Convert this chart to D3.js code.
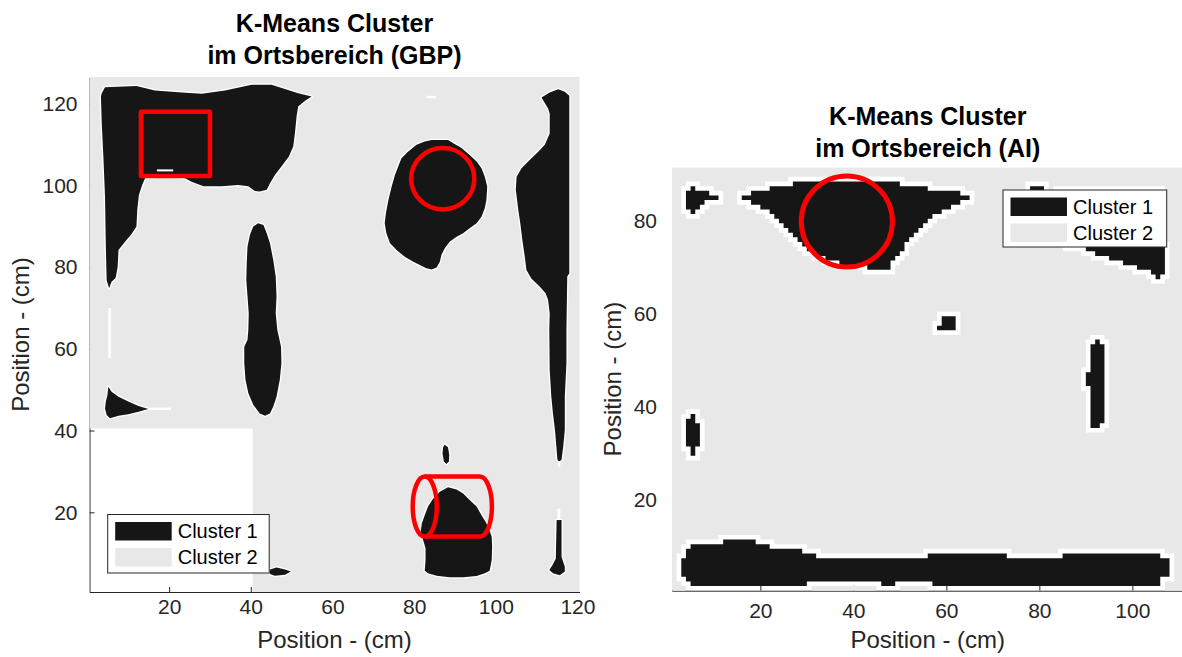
<!DOCTYPE html>
<html>
<head>
<meta charset="utf-8">
<script src="https://cdnjs.cloudflare.com/ajax/libs/d3/7.8.5/d3.min.js"></script>
<style>
  body { margin: 0; background: #fff; }
  svg { display: block; }
  text { font-family: "Liberation Sans", Arial, Helvetica, sans-serif; }
</style>
</head>
<body>
<div id="chart"></div>
<script>
// ---------- data: left panel (GBP), blob outlines in cm ----------
var gbpXTicks = [20, 40, 60, 80, 100, 120]
var gbpYTicks = [20, 40, 60, 80, 100, 120]

var gbpBlobTopLeft = [[3.3,121.7],[3.5,122.5],[4.3,124.0],[12.0,124.3],[16.5,123.2],[23.1,122.7],[28.0,122.4],[33.7,123.2],[40.2,124.6],[45.1,124.6],[51.6,122.5],[54.9,121.7],[53.3,120.7],[51.6,119.3],[51.2,116.8],[50.8,112.7],[50.4,109.5],[49.3,107.0],[47.5,104.6],[45.9,102.5],[44.7,100.5],[43.9,98.9],[42.2,98.5],[41.0,98.6],[39.4,99.8],[36.9,100.1],[32.9,99.8],[28.4,99.8],[25.5,100.9],[23.9,101.7],[21.0,102.1],[16.9,102.1],[14.1,101.7],[13.4,100.1],[12.6,97.6],[12.2,94.0],[12.0,89.9],[10.8,88.1],[9.2,86.2],[7.6,84.2],[7.4,80.1],[6.9,77.3],[5.9,76.4],[5.3,74.8],[4.7,76.8],[4.5,85.0],[4.3,97.2],[3.9,107.0],[3.5,115.2]]
var gbpBlobEgg = [[84.3,111.1],[88.3,111.1],[89.6,110.3],[91.6,109.1],[93.6,107.4],[95.3,105.8],[96.5,104.2],[97.3,102.1],[97.9,99.7],[97.7,96.4],[97.3,94.4],[96.5,92.3],[95.3,90.7],[93.6,89.5],[92.0,88.3],[90.4,87.4],[88.7,86.2],[87.5,84.6],[86.7,83.0],[86.3,81.3],[85.5,79.9],[84.3,79.4],[83.0,79.7],[81.4,80.5],[79.8,81.3],[77.7,82.5],[75.7,84.2],[74.1,85.8],[73.2,88.3],[72.8,90.7],[73.1,93.2],[73.7,96.4],[74.5,99.7],[75.3,102.5],[76.1,104.6],[76.9,106.6],[78.5,108.2],[80.6,109.9],[82.6,110.7]]
var gbpBlobRightStrip = [[111.2,121.5],[113.2,122.7],[115.3,123.5],[116.9,122.9],[118.0,121.9],[118.0,78.5],[117.5,77.7],[117.3,64.6],[117.3,56.5],[116.9,48.3],[116.9,40.1],[116.5,36.0],[116.1,32.8],[115.5,32.4],[115.1,32.8],[114.9,35.2],[114.5,40.1],[114.0,44.2],[113.6,48.3],[113.2,54.8],[113.1,64.6],[113.2,68.7],[112.8,72.0],[112.2,73.6],[110.8,75.2],[108.7,77.2],[107.5,79.3],[107.1,82.5],[106.5,86.6],[106.0,90.7],[105.5,94.0],[104.9,98.9],[105.1,102.1],[106.3,104.2],[108.3,106.2],[110.4,108.2],[112.0,109.9],[113.2,112.7],[113.2,117.6],[112.8,118.8]]
var gbpBlobRightDrop = [[114.9,18.1],[116.1,18.1],[116.1,9.1],[116.9,6.7],[116.9,5.5],[115.7,4.6],[114.0,5.1],[113.1,5.9],[113.9,7.1],[114.7,8.7]]
var gbpBlobSpindle = [[41.8,90.7],[43.1,90.3],[43.9,88.3],[44.7,85.8],[45.5,81.7],[46.1,77.7],[46.3,72.8],[46.1,68.7],[46.5,64.6],[47.4,60.5],[47.5,56.5],[47.1,52.4],[46.3,48.3],[45.5,45.9],[44.7,44.2],[43.5,43.6],[42.2,44.2],[40.6,46.3],[39.4,49.1],[38.7,52.4],[38.4,56.5],[38.4,60.5],[39.2,62.2],[39.4,64.6],[39.5,68.7],[39.2,72.8],[38.9,76.8],[39.0,80.9],[39.2,85.0],[39.8,87.9],[40.6,89.9]]
var gbpBlobWedge = [[5.1,50.7],[5.9,49.5],[7.6,48.3],[10.0,47.1],[12.5,46.0],[14.9,45.3],[12.5,44.6],[10.0,44.0],[7.6,43.6],[5.5,43.0],[4.7,43.8],[4.3,45.4],[4.5,47.1],[4.9,48.7]]
var gbpBlobFoot = [[44.7,6.0],[46.3,6.5],[48.4,6.0],[49.8,5.5],[48.4,4.7],[45.9,4.5],[44.7,4.9]]
var gbpBlobDot = [[87.5,36.5],[88.3,35.9],[88.6,34.0],[88.5,32.4],[87.9,31.8],[87.3,32.4],[86.95,34.3],[87.1,35.9]]
var gbpBlobBottle = [[88.3,26.1],[90.4,25.6],[92.0,24.6],[93.6,23.0],[95.3,21.4],[96.5,19.3],[97.6,17.5],[98.4,15.7],[99.0,14.0],[99.1,11.6],[99.0,8.3],[98.5,5.7],[97.3,5.1],[95.3,4.4],[92.0,4.1],[88.7,4.1],[85.5,4.5],[83.4,5.1],[82.6,5.7],[82.8,8.3],[82.8,11.2],[82.2,13.2],[81.6,15.3],[81.9,17.3],[82.6,19.3],[83.4,21.4],[84.7,23.4],[86.3,25.0]]
var gbpBlobs = [gbpBlobTopLeft, gbpBlobEgg, gbpBlobRightStrip, gbpBlobRightDrop, gbpBlobSpindle, gbpBlobWedge, gbpBlobFoot, gbpBlobDot, gbpBlobBottle]

// empty (NaN) areas [x0, x1, y0, y1]
var gbpEmptyBlock = [[0.5, 40.5, 0.5, 40.5]]
var gbpEmptyBits = [[5.1,5.8,57.7,70.0],[83.0,85.3,121.3,121.9],[17.0,21.0,103.4,103.9],[14.9,20.5,45.0,45.6],[115.2,115.8,31.2,32.4],[115.1,115.8,18.1,20.9]]

// red annotations
var gbpBox = [13.1, 30.0, 102.3, 118.0]
var gbpCircle = [87.0, 101.6, 7.75, 7.5]
var gbpCylinder = [82.6, 96.1, 21.4, 2.95, 7.35]

// ---------- data: right panel (AI), black pixel runs [row, xStart, xEnd] ----------
var aiXTicks = [20, 40, 60, 80, 100]
var aiYTicks = [20, 40, 60, 80]

var aiBlobTop = [[88,27,50],[87,22,56],[86,18,63],[85,16,65],[84,18,63],[83,20,61],[82,22,59],[81,23,57],[80,24,56],[79,25,55],[78,26,54],[77,27,53],[76,28,52],[75,29,51],[74,30,51],[73,32,50],[72,34,49],[71,37,48],[70,43,48]]
var aiBlobArrow = [[87,5,6],[86,4,9],[85,4,11],[84,4,8],[83,4,7],[82,5,6]]
var aiBlobCorner = [[87,78,81],[86,84,106],[85,84,106],[84,84,106],[83,84,106],[82,84,106],[81,84,106],[80,84,106],[79,84,106],[78,84,106],[77,84,106],[76,84,106],[75,86,106],[74,90,107],[73,92,107],[72,95,107],[71,98,107],[70,101,107],[69,104,107],[68,105,106]]
var aiBlobSquare = [[59,59,62],[58,59,62],[57,58,62]]
var aiBlobBar = [[54,92,93],[53,91,94],[52,91,94],[51,91,94],[50,91,94],[49,91,94],[48,91,94],[47,90,94],[46,90,94],[45,90,94],[44,91,94],[43,91,94],[42,91,94],[41,91,94],[40,91,94],[39,91,94],[38,91,94],[37,91,94],[36,91,93]]
var aiBlobStub = [[38,5,6],[37,4,6],[36,4,7],[35,4,7],[34,4,7],[33,4,7],[32,4,7],[31,5,6],[30,5,6]]
var aiBlobFloor = [[11,12,19],[10,5,22],[9,4,29],[8,4,32],[8,56,73],[8,85,106],[7,3,108],[6,3,108],[5,3,108],[4,3,108],[3,4,106],[2,5,30],[2,46,49],[2,57,106]]
var aiBlobs = [aiBlobTop, aiBlobArrow, aiBlobCorner, aiBlobSquare, aiBlobBar, aiBlobStub, aiBlobFloor]
var aiEmptyBits = [[4, 6, 23, 29.5]]
var aiCircle = [38.6, 79.9, 9.8]

var legendLabels = ['Cluster 1', 'Cluster 2']

// ---------- drawing ----------
var W = 1182, H = 657
var BLACK = '#161616', GRAY = '#e8e8e8', RED = '#ff0000', INK = '#262626'

var svg = d3.select('#chart').append('svg').attr('width', W).attr('height', H)
var defs = svg.append('defs')

function axes(g, x, y, xt, yt, padX, padY) {
  var ax = g.append('g').attr('transform', 'translate(0,' + y.range()[0] + ')')
    .call(d3.axisBottom(x).tickValues(xt).tickSizeInner(-5).tickSizeOuter(0).tickPadding(padX))
  var ay = g.append('g').attr('transform', 'translate(' + x.range()[0] + ',0)')
    .call(d3.axisLeft(y).tickValues(yt).tickSizeInner(-5).tickSizeOuter(0).tickPadding(padY))
  g.selectAll('.domain, .tick line').attr('stroke', INK).attr('stroke-width', 1)
  g.selectAll('.tick text').attr('fill', INK).style('font-size', '21px')
  ax.attr('font-family', null); ay.attr('font-family', null)
}

function titles(g, cx, lines, y0) {
  g.selectAll('text.title').data(lines).enter().append('text')
    .attr('class', 'title')
    .attr('x', cx).attr('y', function(d, i) { return y0 + i * 32 })
    .attr('text-anchor', 'middle').attr('font-weight', 'bold')
    .style('font-size', '25px').attr('fill', '#000')
    .text(function(d) { return d })
}

function labels(g, cx, cy, xBase, yBase) {
  g.append('text').attr('x', cx).attr('y', yBase).attr('text-anchor', 'middle')
    .style('font-size', '24px').attr('fill', INK).text('Position - (cm)')
  g.append('text').attr('transform', 'translate(' + xBase + ',' + cy + ') rotate(-90)')
    .attr('text-anchor', 'middle').style('font-size', '24px').attr('fill', INK).text('Position - (cm)')
}

function legend(g, lx, ly, lw, lh) {
  g.append('rect').attr('x', lx).attr('y', ly).attr('width', lw).attr('height', lh)
    .attr('fill', '#fff').attr('stroke', INK).attr('stroke-width', 1)
  var item = g.selectAll('g.item').data(legendLabels).enter().append('g').attr('class', 'item')
  item.append('rect').attr('x', lx + 7.5).attr('y', function(d, i) { return ly + 7.5 + i * 26 })
    .attr('width', 56.5).attr('height', 18.5).attr('fill', function(d, i) { return i ? GRAY : BLACK })
  item.append('text').attr('x', lx + 70).attr('y', function(d, i) { return ly + 16.5 + i * 26 })
    .attr('dy', '0.35em').style('font-size', '20px').attr('fill', '#000')
    .text(function(d) { return d })
}

function rectOf(x, y, r) {
  return { x: x(r[0]), y: y(r[3]), w: x(r[1]) - x(r[0]), h: y(r[2]) - y(r[3]) }
}

// ---- left panel ----
var xL = d3.scaleLinear().domain([0.5, 120.5]).range([89.5, 579.5])
var yL = d3.scaleLinear().domain([0.5, 126.5]).range([592, 77])
var gL = svg.append('g')
axes(gL, xL, yL, gbpXTicks, gbpYTicks, 7, 12)

var outline = d3.line().x(function(d) { return xL(d[0]) }).y(function(d) { return yL(d[1]) }).curve(d3.curveLinearClosed)

var maskL = defs.append('mask').attr('id', 'maskL').attr('maskUnits', 'userSpaceOnUse')
  .attr('x', 0).attr('y', 0).attr('width', W).attr('height', H)
maskL.append('rect').attr('width', W).attr('height', H).attr('fill', '#fff')
maskL.selectAll('path').data(gbpBlobs).enter().append('path').attr('d', outline)
  .attr('fill', '#000').attr('stroke', '#000').attr('stroke-width', 2.6).attr('stroke-linejoin', 'round')
maskL.selectAll('rect.e').data(gbpEmptyBlock).enter().append('rect').attr('class', 'e')
  .each(function(d) {
    var r = rectOf(xL, yL, d)
    d3.select(this).attr('x', r.x).attr('y', r.y).attr('width', r.w).attr('height', r.h).attr('fill', '#000')
  })

gL.append('rect').attr('x', xL(0.5)).attr('y', yL(126.5))
  .attr('width', xL(120.5) - xL(0.5)).attr('height', yL(0.5) - yL(126.5))
  .attr('fill', GRAY).attr('mask', 'url(#maskL)')

gL.selectAll('path.blob').data(gbpBlobs).enter().append('path').attr('class', 'blob')
  .attr('d', outline).attr('fill', BLACK)

gL.selectAll('rect.bit').data(gbpEmptyBits).enter().append('rect').attr('class', 'bit')
  .each(function(d) {
    var r = rectOf(xL, yL, d)
    d3.select(this).attr('x', r.x).attr('y', r.y).attr('width', r.w).attr('height', r.h).attr('fill', '#fff')
  })

// red marks
gL.append('rect').attr('x', xL(gbpBox[0])).attr('y', yL(gbpBox[3]))
  .attr('width', xL(gbpBox[1]) - xL(gbpBox[0])).attr('height', yL(gbpBox[2]) - yL(gbpBox[3]))
  .attr('fill', 'none').attr('stroke', RED).attr('stroke-width', 4.5).attr('stroke-linejoin', 'round')
gL.append('ellipse').attr('cx', xL(gbpCircle[0])).attr('cy', yL(gbpCircle[1]))
  .attr('rx', xL(gbpCircle[2]) - xL(0)).attr('ry', yL(0) - yL(gbpCircle[3]))
  .attr('fill', 'none').attr('stroke', RED).attr('stroke-width', 4.5)
var cyl = gbpCylinder
var cl = xL(cyl[0]), cr = xL(cyl[1]), cc = yL(cyl[2])
var crx = xL(cyl[3]) - xL(0), cry = yL(0) - yL(cyl[4])
gL.append('ellipse').attr('cx', cl).attr('cy', cc).attr('rx', crx).attr('ry', cry)
  .attr('fill', 'none').attr('stroke', RED).attr('stroke-width', 4.5)
gL.append('path')
  .attr('d', 'M' + cl + ',' + (cc - cry) + 'H' + cr + 'A' + crx + ',' + cry + ' 0 0 1 ' + cr + ',' + (cc + cry) + 'H' + cl)
  .attr('fill', 'none').attr('stroke', RED).attr('stroke-width', 4.5).attr('stroke-linejoin', 'round')

legend(gL, 107.7, 514.5, 161.5, 58.5)
titles(gL, (xL.range()[0] + xL.range()[1]) / 2, ['K-Means Cluster', 'im Ortsbereich (GBP)'], 32)
labels(gL, (xL.range()[0] + xL.range()[1]) / 2, (yL.range()[0] + yL.range()[1]) / 2, 29, 648)

// ---- right panel ----
var xR = d3.scaleLinear().domain([1, 111]).range([672, 672 + 110 * 4.65])
var yR = d3.scaleLinear().domain([0.5, 91.5]).range([590.7, 590.7 - 91 * 4.65])
var gR = svg.append('g')
axes(gR, xR, yR, aiXTicks, aiYTicks, 12, 15)

function runs(rows, pad) {
  return rows.map(function(r) {
    var x0 = xR(r[1] - pad), x1 = xR(r[2] + pad)
    var y0 = yR(r[0] + 0.5 + pad), y1 = yR(r[0] - 0.5 - pad)
    return 'M' + x0 + ',' + y0 + 'H' + x1 + 'V' + y1 + 'H' + x0 + 'Z'
  }).join('')
}

var maskR = defs.append('mask').attr('id', 'maskR').attr('maskUnits', 'userSpaceOnUse')
  .attr('x', 0).attr('y', 0).attr('width', W).attr('height', H)
maskR.append('rect').attr('width', W).attr('height', H).attr('fill', '#fff')
maskR.selectAll('path').data(aiBlobs).enter().append('path')
  .attr('d', function(d) { return runs(d, 1) }).attr('fill', '#000')
maskR.selectAll('rect').data(aiEmptyBits).enter().append('rect')
  .each(function(d) {
    var r = rectOf(xR, yR, d)
    d3.select(this).attr('x', r.x).attr('y', r.y).attr('width', r.w).attr('height', r.h).attr('fill', '#000')
  })

gR.append('rect').attr('x', xR(1)).attr('y', yR(91.5))
  .attr('width', xR(111) - xR(1)).attr('height', yR(0.5) - yR(91.5))
  .attr('fill', GRAY).attr('mask', 'url(#maskR)')

gR.selectAll('path.blob').data(aiBlobs).enter().append('path').attr('class', 'blob')
  .attr('d', function(d) { return runs(d, 0) }).attr('fill', BLACK)

gR.append('ellipse').attr('cx', xR(aiCircle[0])).attr('cy', yR(aiCircle[1]))
  .attr('rx', xR(aiCircle[2]) - xR(0)).attr('ry', yR(0) - yR(aiCircle[2]))
  .attr('fill', 'none').attr('stroke', RED).attr('stroke-width', 5)

legend(gR, 1003, 190, 163.7, 57)
titles(gR, (xR.range()[0] + xR.range()[1]) / 2, ['K-Means Cluster', 'im Ortsbereich (AI)'], 125)
labels(gR, (xR.range()[0] + xR.range()[1]) / 2, (yR.range()[0] + yR.range()[1]) / 2, 621, 648)
</script>
</body>
</html>
